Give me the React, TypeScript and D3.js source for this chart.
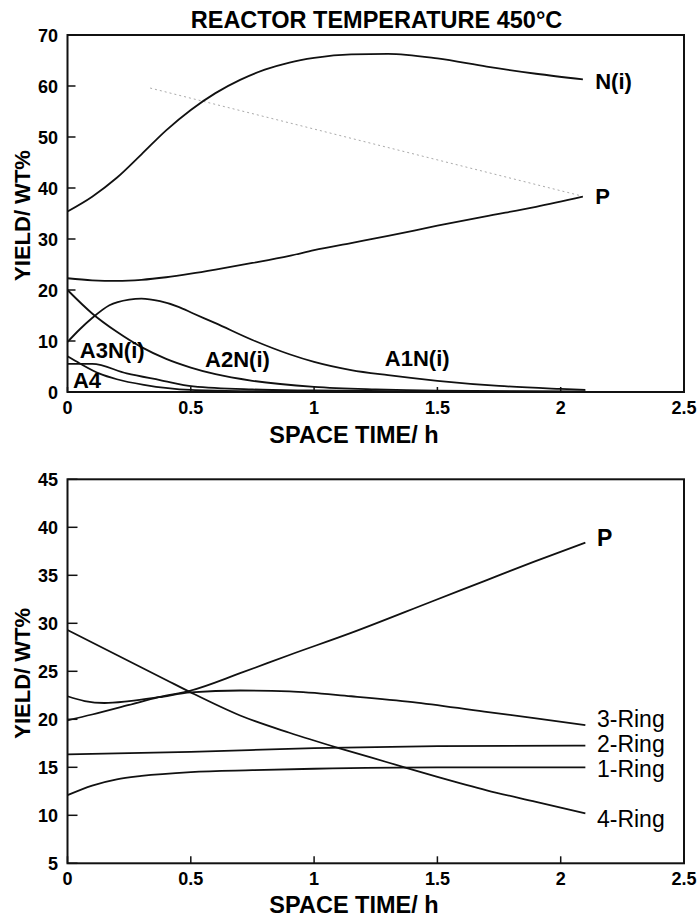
import React, { useEffect, useRef } from 'react'
import * as d3 from 'd3'

// space time (h) ticks, shared by both panels
const xTicks = [0, 0.5, 1, 1.5, 2, 2.5]
const topYTicks = [0, 10, 20, 30, 40, 50, 60, 70]
const bottomYTicks = [5, 10, 15, 20, 25, 30, 35, 40, 45]

// upper panel, yield wt% vs space time
const topNi = [[0, 35.4], [0.1, 38.3], [0.2, 42.0], [0.3, 46.6], [0.4, 51.3], [0.5, 55.3], [0.6, 58.6], [0.7, 61.2], [0.8, 63.2], [0.9, 64.6], [1.0, 65.5], [1.15, 66.2], [1.3, 66.3], [1.5, 65.4], [1.7, 63.8], [1.9, 62.4], [2.09, 61.3]]
const topP = [[0, 22.3], [0.1, 21.9], [0.2, 21.8], [0.3, 22.0], [0.4, 22.5], [0.5, 23.2], [0.6, 24.0], [0.75, 25.3], [0.9, 26.7], [1.0, 27.8], [1.15, 29.2], [1.3, 30.6], [1.5, 32.6], [1.69, 34.4], [1.9, 36.3], [2.09, 38.3]]
const topPeak = [[0, 9.8], [0.05, 12.3], [0.1, 14.5], [0.17, 17.0], [0.25, 18.1], [0.3, 18.3], [0.375, 17.8], [0.45, 16.7], [0.51, 15.4], [0.6, 13.5], [0.75, 10.2], [0.9, 7.4], [1.0, 5.9], [1.15, 4.3], [1.3, 3.3], [1.5, 2.2], [1.75, 1.2], [2.0, 0.6], [2.1, 0.4]]
const topA3 = [[0, 20], [0.1, 15.4], [0.2, 11.8], [0.3, 8.8], [0.4, 6.5], [0.5, 4.8], [0.6, 3.5], [0.75, 2.2], [1.0, 1.0], [1.25, 0.5], [1.5, 0.25], [2.1, 0.1]]
const topFlat = [[0, 5.5], [0.1, 5.5], [0.24, 3.65], [0.375, 2.35], [0.51, 1.1], [0.75, 0.5], [1.0, 0.3], [1.5, 0.1], [2.1, 0]]
const topA4 = [[0, 7.0], [0.05, 5.6], [0.13, 3.6], [0.2, 2.5], [0.31, 1.4], [0.5, 0.4], [0.75, 0.15], [1.0, 0.05]]
const topGhost = [[0.335, 59.6], [2.08, 38.5]]

// lower panel
const botP = [[0, 19.9], [0.1, 20.5], [0.25, 21.5], [0.37, 22.3], [0.5, 23.0], [0.7, 24.8], [0.9, 26.7], [1.15, 29.0], [1.48, 32.3], [1.69, 34.4], [1.89, 36.4], [2.1, 38.4]]
const ring3 = [[0, 22.4], [0.07, 21.9], [0.15, 21.7], [0.25, 21.9], [0.37, 22.3], [0.5, 22.8], [0.7, 23.0], [0.9, 22.9], [1.15, 22.4], [1.4, 21.8], [1.69, 20.8], [1.9, 20.1], [2.1, 19.4]]
const ring2 = [[0, 16.35], [0.5, 16.6], [1.0, 17.0], [1.5, 17.2], [2.1, 17.25]]
const ring1 = [[0, 12.1], [0.1, 13.1], [0.2, 13.75], [0.3, 14.1], [0.5, 14.5], [0.75, 14.7], [1.0, 14.85], [1.5, 15.0], [2.1, 15.0]]
const ring4 = [[0, 29.3], [0.2, 26.7], [0.4, 24.1], [0.5, 22.8], [0.7, 20.4], [0.9, 18.6], [1.1, 17.0], [1.3, 15.5], [1.5, 14.0], [1.7, 12.6], [1.9, 11.4], [2.1, 10.2]]

// label anchors in data units (left edge, baseline)
const topLabels = [
  { text: 'N(i)', x: 2.14, y: 59.4 },
  { text: 'P', x: 2.14, y: 36.9 },
  { text: 'A3N(i)', x: 0.05, y: 6.7 },
  { text: 'A2N(i)', x: 0.558, y: 4.9 },
  { text: 'A1N(i)', x: 1.287, y: 5.1 },
  { text: 'A4', x: 0.022, y: 0.8 },
]
const bottomLabels = [
  { text: 'P', x: 2.147, y: 38.05, bold: true },
  { text: '3-Ring', x: 2.147, y: 19.2 },
  { text: '2-Ring', x: 2.147, y: 16.6 },
  { text: '1-Ring', x: 2.147, y: 14.0 },
  { text: '4-Ring', x: 2.147, y: 8.8 },
]

const FONT = '"Liberation Sans", Arial, sans-serif'

function drawPanel(svg, opts) {
  const { top, bottom, yDomain, yTicks, series, labels, labelBold, ytl, xtl, xTitleY } = opts
  const x = d3.scaleLinear().domain([0, 2.5]).range([67.5, 684])
  const y = d3.scaleLinear().domain(yDomain).range([bottom, top])
  const g = svg.append('g')

  const line = d3
    .line()
    .x((d) => x(d[0]))
    .y((d) => y(d[1]))
    .curve(d3.curveMonotoneX)

  if (opts.ghost) {
    g.append('path')
      .attr('d', d3.line().x((d) => x(d[0])).y((d) => y(d[1]))(opts.ghost))
      .attr('fill', 'none')
      .attr('stroke', '#aaa')
      .attr('stroke-width', 1)
      .attr('stroke-dasharray', '2,3')
  }

  for (const s of series) {
    g.append('path')
      .attr('d', line(s))
      .attr('fill', 'none')
      .attr('stroke', '#111')
      .attr('stroke-width', 1.8)
  }

  // frame
  g.append('rect')
    .attr('x', x(0))
    .attr('y', top)
    .attr('width', x(2.5) - x(0))
    .attr('height', bottom - top)
    .attr('fill', 'none')
    .attr('stroke', '#111')
    .attr('stroke-width', 2)

  // y ticks, pointing inward
  g.selectAll('.yt')
    .data(yTicks)
    .enter()
    .append('line')
    .attr('x1', x(0))
    .attr('x2', x(0) + ytl)
    .attr('y1', (d) => y(d))
    .attr('y2', (d) => y(d))
    .attr('stroke', '#111')
    .attr('stroke-width', 1.5)
  g.selectAll('.yl')
    .data(yTicks)
    .enter()
    .append('text')
    .attr('x', 58)
    .attr('y', (d) => y(d) + 6.5)
    .attr('text-anchor', 'end')
    .attr('font-family', FONT)
    .attr('font-weight', 'bold')
    .attr('font-size', 18)
    .text((d) => d)

  g.selectAll('.xt')
    .data(xTicks)
    .enter()
    .append('line')
    .attr('x1', (d) => x(d))
    .attr('x2', (d) => x(d))
    .attr('y1', bottom)
    .attr('y2', bottom - xtl)
    .attr('stroke', '#111')
    .attr('stroke-width', 1.5)
  g.selectAll('.xl')
    .data(xTicks)
    .enter()
    .append('text')
    .attr('x', (d) => x(d))
    .attr('y', (d) => bottom + 21.5)
    .attr('text-anchor', 'middle')
    .attr('font-family', FONT)
    .attr('font-weight', 'bold')
    .attr('font-size', 18)
    .text((d) => d)

  g.selectAll('.lab')
    .data(labels)
    .enter()
    .append('text')
    .attr('x', (d) => x(d.x))
    .attr('y', (d) => y(d.y))
    .attr('font-family', FONT)
    .attr('font-weight', (d) => (labelBold || d.bold ? 'bold' : 'normal'))
    .attr('font-size', labelBold ? 22 : 23)
    .text((d) => d.text)

  g.append('text')
    .attr('x', 354)
    .attr('y', xTitleY)
    .attr('text-anchor', 'middle')
    .attr('font-family', FONT)
    .attr('font-weight', 'bold')
    .attr('font-size', 23.5)
    .text('SPACE TIME/ h')

  const cy = (top + bottom) / 2 + 2
  g.append('text')
    .attr('transform', `translate(30,${cy}) rotate(-90)`)
    .attr('text-anchor', 'middle')
    .attr('font-family', FONT)
    .attr('font-weight', 'bold')
    .attr('font-size', 22)
    .text('YIELD/ WT%')
}

export default function App() {
  const svgRef = useRef(null)

  useEffect(() => {
    const svg = d3.select(svgRef.current)
    svg.selectAll('*').remove()

    svg.append('rect').attr('width', 699).attr('height', 919).attr('fill', '#fff')

    svg.append('text')
      .attr('x', 376.5)
      .attr('y', 27.5)
      .attr('text-anchor', 'middle')
      .attr('font-family', FONT)
      .attr('font-weight', 'bold')
      .attr('font-size', 23.5)
      .text('REACTOR TEMPERATURE 450°C')

    drawPanel(svg, {
      top: 35,
      bottom: 392,
      yDomain: [0, 70],
      yTicks: topYTicks,
      series: [topNi, topP, topPeak, topA3, topFlat, topA4],
      labels: topLabels,
      labelBold: true,
      ghost: topGhost,
      ytl: 8,
      xtl: 5,
      xTitleY: 443,
    })

    drawPanel(svg, {
      top: 479.3,
      bottom: 863.3,
      yDomain: [5, 45],
      yTicks: bottomYTicks,
      series: [botP, ring3, ring2, ring1, ring4],
      labels: bottomLabels,
      labelBold: false,
      ytl: 10,
      xtl: 7,
      xTitleY: 913,
    })
  }, [])

  return (
    <svg
      ref={svgRef}
      width={699}
      height={919}
      style={{ position: 'absolute', left: 0, top: 0, display: 'block' }}
    ></svg>
  )
}
